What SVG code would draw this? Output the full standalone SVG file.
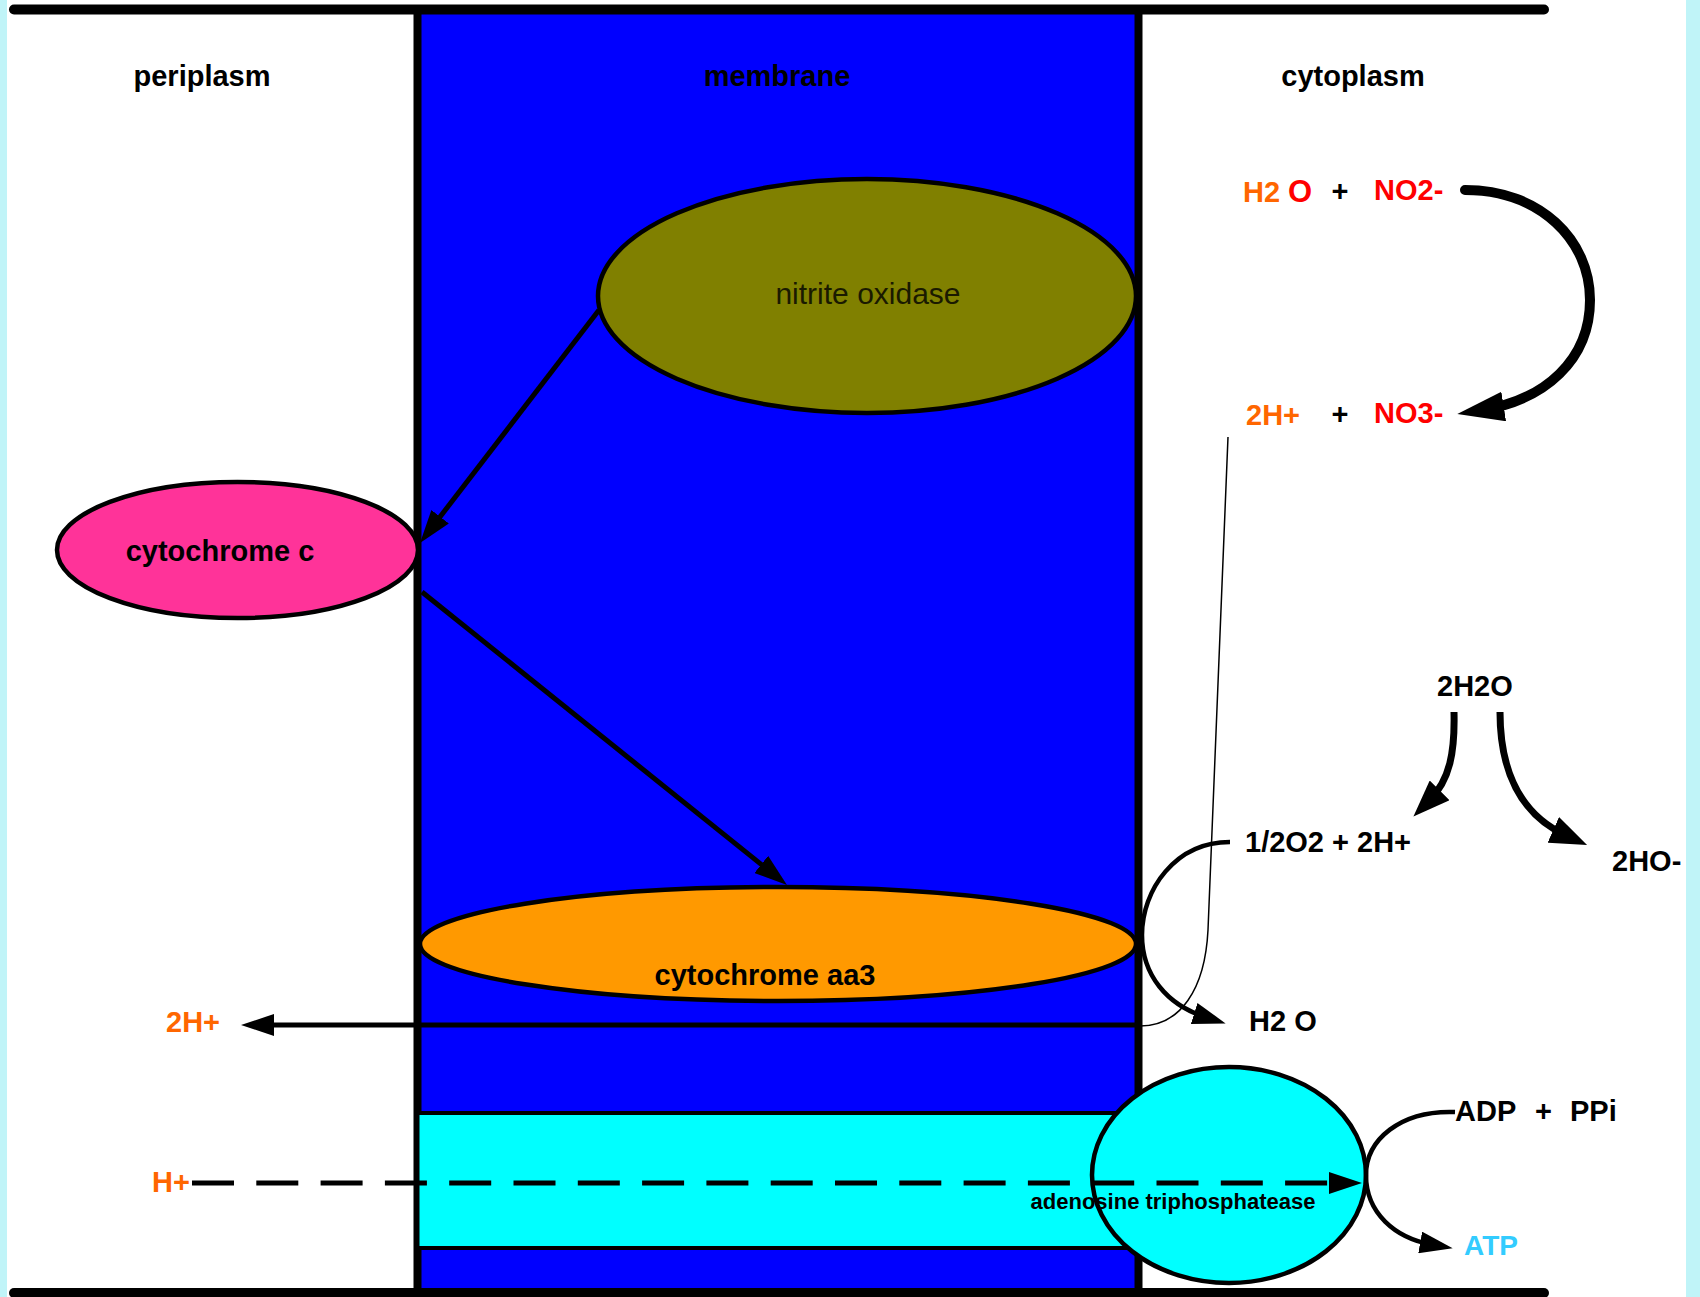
<svg xmlns="http://www.w3.org/2000/svg" width="1700" height="1297" viewBox="0 0 1700 1297">
<defs>
<style>
text{font-family:"Liberation Sans",Arial,sans-serif;font-weight:bold;fill:#000}
.big{font-size:29px}
.chem{font-size:29px}
.reg{font-weight:normal;fill:#1a1a00}
.or{fill:#ff6600}
.rd{fill:#ff0000}
.c{fill:none;stroke:#000;stroke-width:5}
.c45{stroke-width:4.5}
.c7{stroke-width:7}
.c10{stroke-width:10;stroke-linecap:round}
.thin{fill:none;stroke:#000;stroke-width:1.5}
.node{stroke:#000;stroke-width:4.5}
</style>
<marker id="mA" markerUnits="userSpaceOnUse" markerWidth="33" markerHeight="22" refX="12" refY="11" orient="auto"><path d="M0,0 L33,11 L0,22 z" fill="#000"/></marker>
<marker id="mB" markerUnits="userSpaceOnUse" markerWidth="37" markerHeight="28" refX="15" refY="14" orient="auto"><path d="M0,0 L37,14 L0,28 z" fill="#000"/></marker>
<marker id="mC" markerUnits="userSpaceOnUse" markerWidth="47" markerHeight="30" refX="22" refY="15" orient="auto"><path d="M0,0 L47,15 L0,30 z" fill="#000"/></marker>
</defs>
<rect x="0" y="0" width="1700" height="1297" fill="#c0f4f8"/>
<rect x="7" y="0" width="1679" height="1297" fill="#fff"/>
<g id="membrane">
<rect x="417.5" y="9" width="721" height="1284" fill="#0000ff" stroke="#000" stroke-width="8"/>
<text class="big" x="777" y="86" text-anchor="middle">membrane</text>
</g>
<g id="periplasm"><text class="big" x="202" y="86" text-anchor="middle">periplasm</text></g>
<g id="cytoplasm"><text class="big" x="1353" y="86" text-anchor="middle">cytoplasm</text></g>
<g id="nitrite-oxidase">
<ellipse class="node" cx="867" cy="296" rx="269" ry="117" fill="#808000"/>
<text class="big reg" x="868" y="304" text-anchor="middle" style="font-size:30px">nitrite oxidase</text>
</g>
<g id="cytochrome-c">
<ellipse class="node" cx="237.5" cy="550" rx="180.5" ry="68" fill="#ff3399"/>
<text class="big" x="220" y="561" text-anchor="middle">cytochrome c</text>
</g>
<g id="cytochrome-aa3">
<ellipse class="node" cx="778" cy="944" rx="358" ry="57" fill="#ff9900"/>
<text class="big" x="765" y="985" text-anchor="middle">cytochrome aa3</text>
</g>
<g id="atpase-channel">
<rect x="417.5" y="1113" width="723" height="135" fill="#00ffff" stroke="#000" stroke-width="4"/>
</g>
<g id="atpase">
<ellipse class="node" cx="1229" cy="1175" rx="137" ry="108" fill="#00ffff"/>
</g>
<g id="connectors">
<path class="c" d="M599,310 L432.8,526.3" marker-end="url(#mA)"/>
<path class="c" d="M422,592 L770.6,871.9" marker-end="url(#mA)"/>
<path class="c" d="M1138,1025 L262,1025" marker-end="url(#mA)"/>
<path class="thin" d="M1228,437 L1208,930 C1205,990 1180,1026 1140,1026"/>
<path class="c c45" d="M1230,842 C1175,842 1142,890 1142,935 C1142,975 1167,1005 1205.6,1017.1" marker-end="url(#mA)"/>
<path class="c" d="M192,1183 L1341,1183" stroke-dasharray="42 22.3" marker-end="url(#mA)"/>
<path class="c c45" d="M1455,1112 C1400,1110 1366,1140 1366,1175 C1366,1213 1395,1238 1432,1244.6" marker-end="url(#mA)"/>
<path class="c c10" d="M1465,190 C1540,190 1590,240 1590,300 C1590,360 1545,400 1482,410" marker-end="url(#mC)"/>
<path class="c c7" d="M1454,712 C1455,752 1450,780 1429,801" marker-end="url(#mB)"/>
<path class="c c7" d="M1500,712 C1500,770 1520,815 1567,836" marker-end="url(#mB)"/>
</g>
<g id="atpase-label"><text x="1173" y="1209" text-anchor="middle" font-size="22">adenosine triphosphatease</text></g>
<g id="h2o-no2">
<text class="chem" y="202"><tspan class="or" x="1243">H2</tspan><tspan class="rd" x="1288" style="font-size:31px">O</tspan></text>
<text class="chem" x="1340" y="201" text-anchor="middle">+</text>
<text class="chem rd" x="1374" y="200">NO2-</text>
</g>
<g id="h-no3">
<text class="chem or" x="1246" y="425">2H+</text>
<text class="chem" x="1340" y="424" text-anchor="middle">+</text>
<text class="chem rd" x="1374" y="423">NO3-</text>
</g>
<g id="water-2"><text class="chem" x="1437" y="696">2H2O</text></g>
<g id="oxygen-protons"><text class="chem" x="1245" y="852">1/2O2 + 2H+</text></g>
<g id="hydroxide"><text class="chem" x="1612" y="871">2HO-</text></g>
<g id="water"><text class="chem" x="1249" y="1031">H2 O</text></g>
<g id="protons-out"><text class="chem or" x="166" y="1032">2H+</text></g>
<g id="proton-in"><text class="chem or" x="152" y="1192">H+</text></g>
<g id="adp-ppi"><text class="chem" y="1121"><tspan x="1455">ADP</tspan><tspan x="1535">+</tspan><tspan x="1570">PPi</tspan></text></g>
<g id="atp"><text class="chem" x="1464" y="1255" style="fill:#33ccff;font-size:28px">ATP</text></g>
<g id="bars">
<line x1="14" y1="9.5" x2="1544" y2="9.5" stroke="#000" stroke-width="10" stroke-linecap="round"/>
<line x1="14" y1="1293" x2="1544" y2="1293" stroke="#000" stroke-width="10" stroke-linecap="round"/>
</g>
</svg>
